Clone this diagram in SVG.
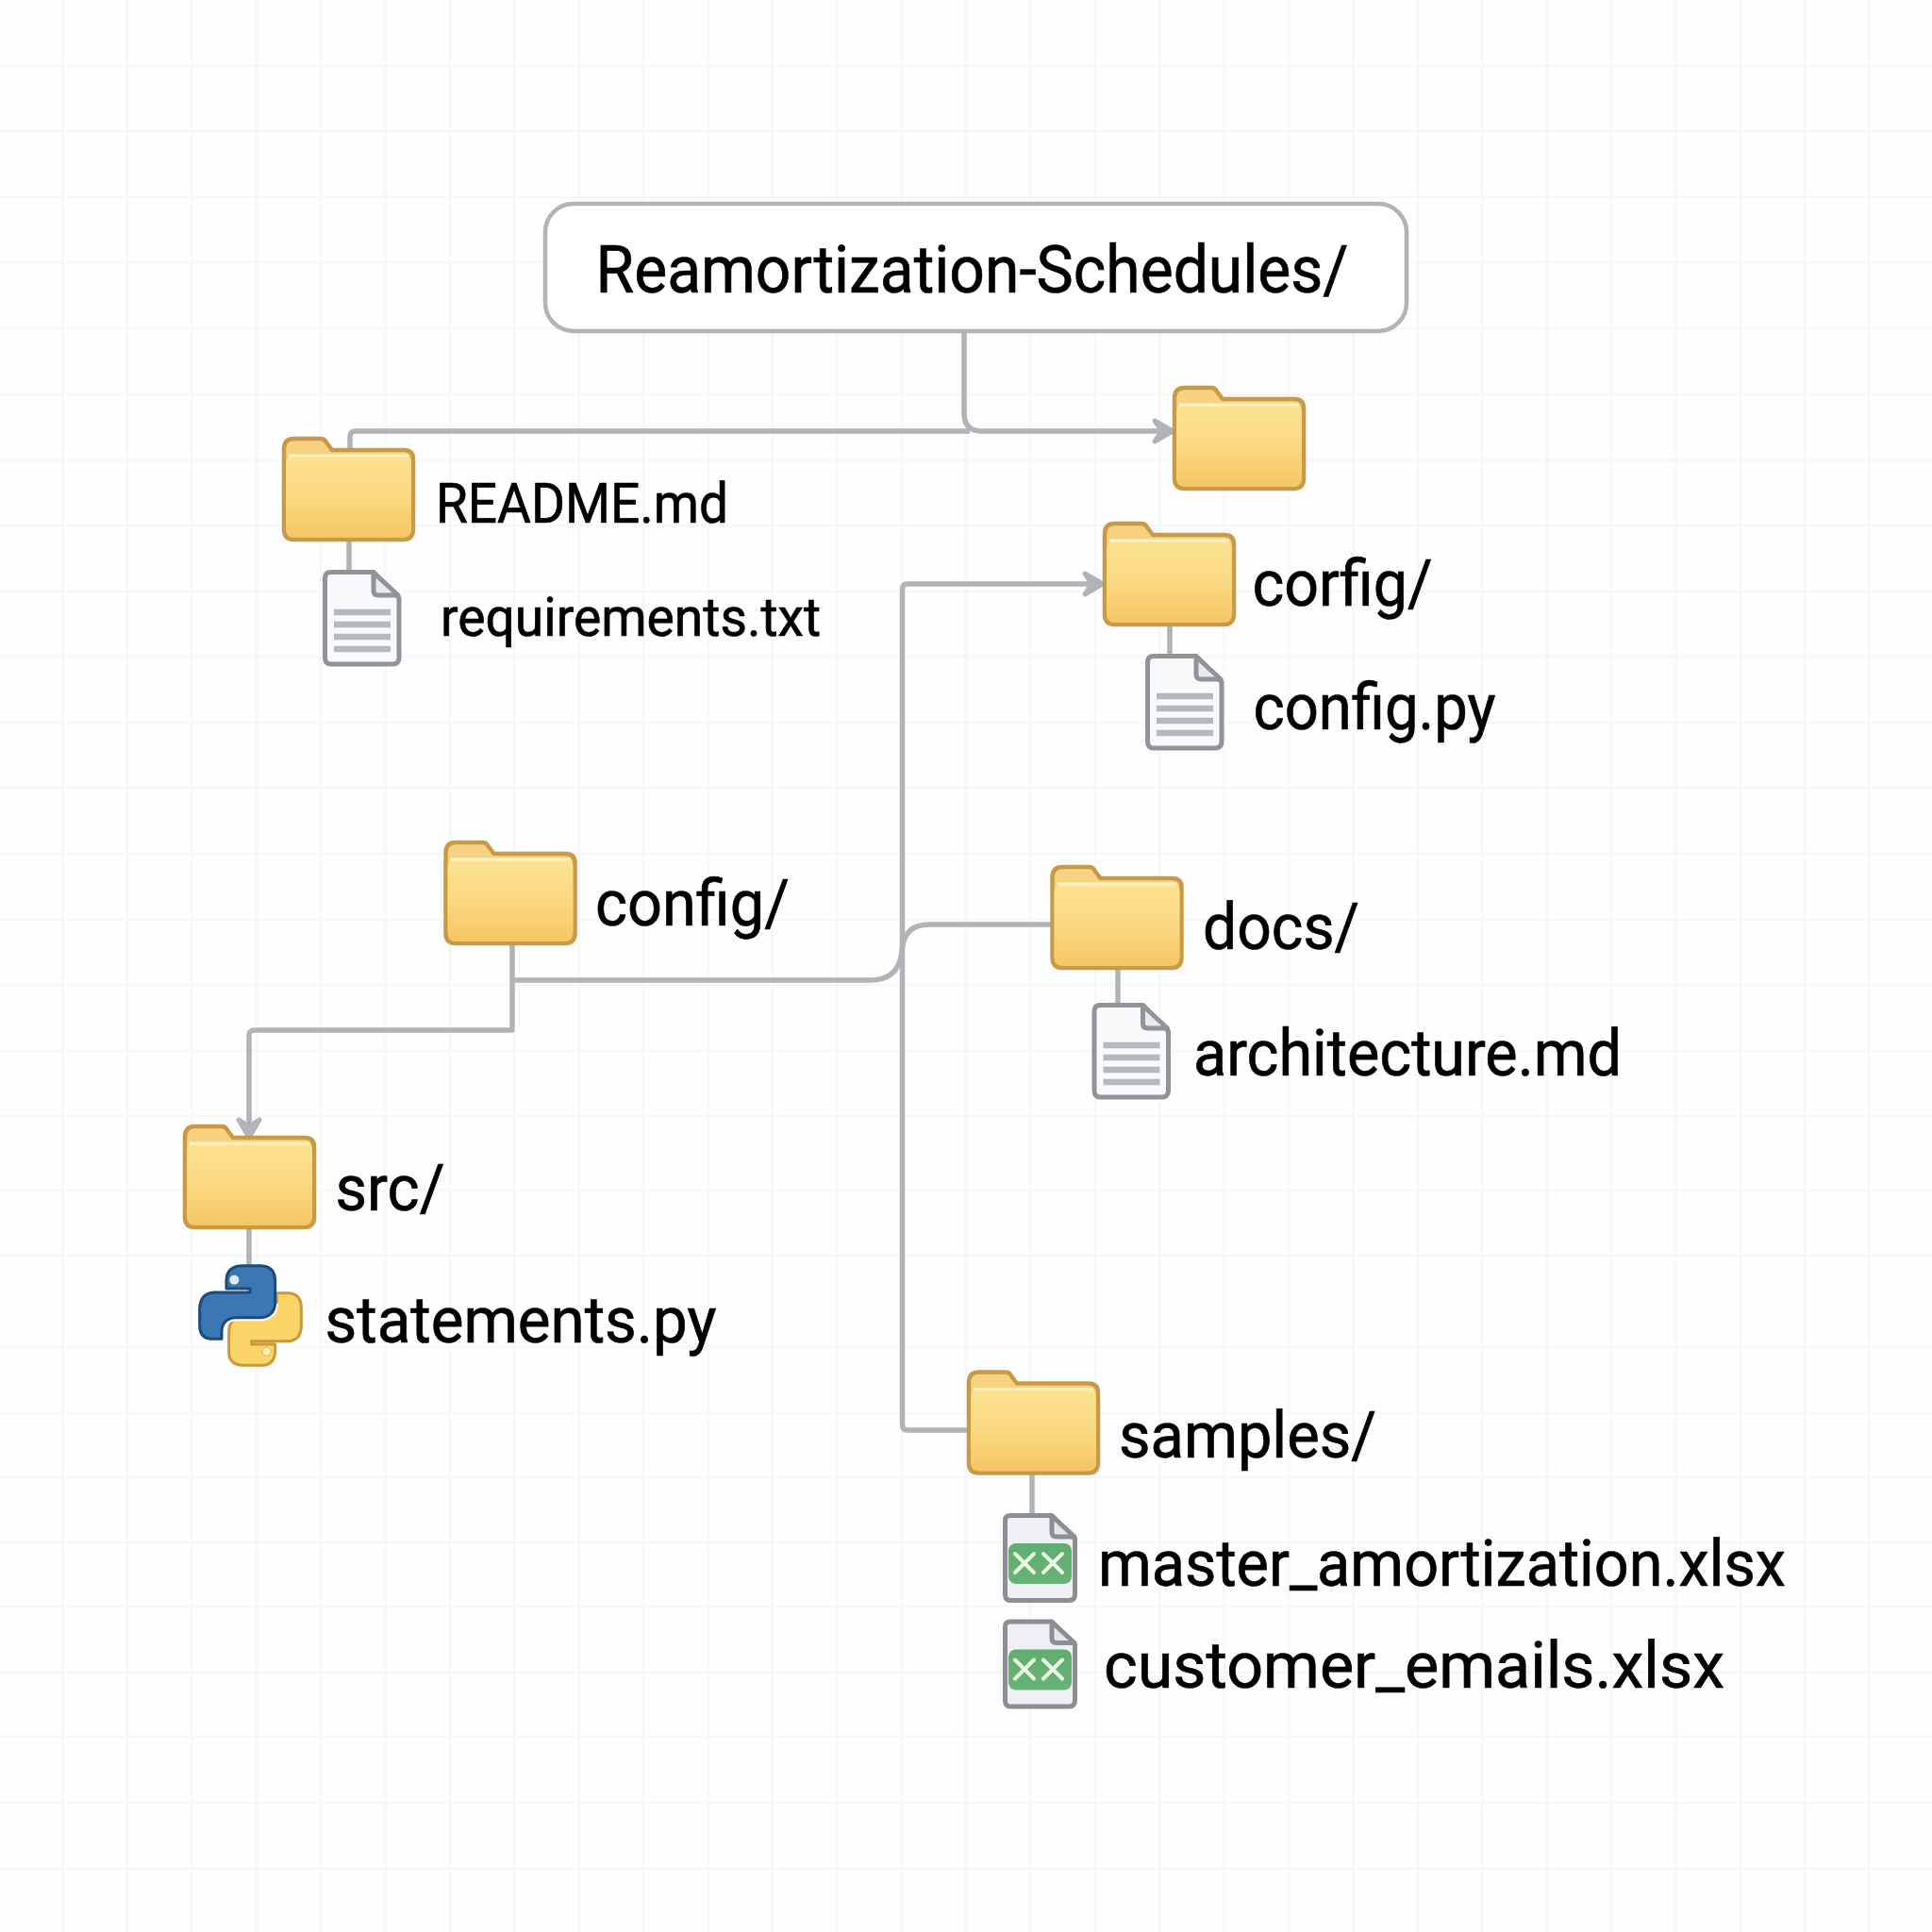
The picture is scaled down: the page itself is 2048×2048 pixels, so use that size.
<svg xmlns="http://www.w3.org/2000/svg" width="2048" height="2048" viewBox="0 0 2048 2048">
<style>
.lab{font-family:Roboto,"Liberation Sans",sans-serif;fill:#000;stroke:#000;stroke-width:.7px;font-size:68px}
.con{fill:none;stroke:#b0b4b9;stroke-width:5.500;stroke-linejoin:round}
.grid{fill:none;stroke:#f7f7f8;stroke-width:2.500}
</style>
<defs>
<linearGradient id="fg" x1="0" y1="0" x2="0" y2="1"><stop offset="0" stop-color="#fde291"/><stop offset=".5" stop-color="#fbd981"/><stop offset="1" stop-color="#f5c663"/></linearGradient>
<linearGradient id="gg" x1="0" y1="0" x2="0" y2="1"><stop offset="0" stop-color="#5eae6d"/><stop offset="1" stop-color="#68b377"/></linearGradient>
<marker id="arr" markerUnits="userSpaceOnUse" markerWidth="32" markerHeight="34" refX="26" refY="15" orient="auto"><path d="M5,4 L24,15 L5,26 L12,15 Z" fill="#b0b4b9" stroke="#b0b4b9" stroke-width="5" stroke-linejoin="round"/></marker>
<g id="folder">
<path d="M2,13 Q2,2 13,2 H41 Q45,2 47,6 L53,14 H129 Q139,14 139,24 V98 Q139,109 128,109 H13 Q2,109 2,98 Z" fill="#f7d283" stroke="#c99a45" stroke-width="4.500" stroke-linejoin="round"/>
<path d="M4,30 Q4,19 15,19 H126 Q137,19 137,30 V97 Q137,107 127,107 H14 Q4,107 4,97 Z" fill="url(#fg)"/>
<path d="M7,20 H134" fill="none" stroke="#fff2c4" stroke-width="3"/>
</g>
<g id="doc">
<path d="M9,2.500 H54 L81,30 V93 Q81,100 74,100 H9 Q2.500,100 2.500,93 V9 Q2.500,2.500 9,2.500 Z" fill="#f8f9fa" stroke="#909397" stroke-width="5" stroke-linejoin="round"/>
<path d="M54,3 V22 Q54,27 59,27 H80 Z" fill="#e8eaec" stroke="#909397" stroke-width="5" stroke-linejoin="round"/>
<path d="M12,45 H72 M12,58 H72 M12,71 H72 M12,84 H72" stroke="#b5b8bc" stroke-width="6.500" fill="none"/>
</g>
<g id="xls">
<path d="M8,2.500 H52 L76.500,27 V86 Q76.500,92.500 70,92.500 H8 Q2.500,92.500 2.500,86 V8 Q2.500,2.500 8,2.500 Z" fill="#eef0f3" stroke="#8b8e93" stroke-width="5" stroke-linejoin="round"/>
<path d="M52,3 V20 Q52,25 57,25 H76 Z" fill="#e3e5e8" stroke="#8b8e93" stroke-width="5" stroke-linejoin="round"/>
<rect x="6" y="32" width="67" height="43" rx="8" fill="url(#gg)"/>
<path d="M13,43 L33,63 M33,43 L13,63 M43,43 L63,63 M63,43 L43,63" stroke="#e9f6e2" stroke-width="4" stroke-linecap="round" fill="none"/>
</g>
</defs>
<rect width="2048" height="2048" fill="#fefefe"/>
<path class="grid" d="M66.500,0V2048M134.900,0V2048M203.300,0V2048M271.700,0V2048M340.100,0V2048M408.500,0V2048M476.900,0V2048M545.300,0V2048M613.700,0V2048M682.100,0V2048M750.500,0V2048M818.900,0V2048M887.300,0V2048M955.700,0V2048M1024.100,0V2048M1092.500,0V2048M1160.900,0V2048M1229.300,0V2048M1297.700,0V2048M1366.100,0V2048M1434.500,0V2048M1503,0V2048M1571.300,0V2048M1639.700,0V2048M1708,0V2048M1776.500,0V2048M1845,0V2048M1913,0V2048M1981,0V2048"/>
<path class="grid" d="M0,70H2048M0,139H2048M0,209H2048M0,278H2048M0,348H2048M0,418H2048M0,488H2048M0,557H2048M0,627H2048M0,696H2048M0,766H2048M0,835H2048M0,905H2048M0,975H2048M0,1044H2048M0,1114H2048M0,1183H2048M0,1262H2048M0,1331H2048M0,1428H2048M0,1498H2048M0,1566H2048M0,1635H2048M0,1703H2048M0,1773H2048M0,1841H2048M0,1911H2048M0,1981H2048"/>
<g id="connectors">
<path class="con" d="M1022,351 V438 Q1022,457 1041,457 H1245" marker-end="url(#arr)"/>
<path class="con" d="M1028,457 H377 Q371,457 371,463 V485"/>
<path class="con" d="M370,570 V606"/>
<path class="con" d="M1240,660 V695"/>
<path class="con" d="M1185,1024 V1065"/>
<path class="con" d="M264,1300 V1345"/>
<path class="con" d="M1094,1560 V1606"/>
<path class="con" d="M543,998 V1092 H270 Q264,1092 264,1098 V1208" marker-end="url(#arr)"/>
<path class="con" d="M544,1039 H923 Q953,1039 956,1008 Q958,980 985,980 H1116"/>
<path class="con" d="M1027,1516 H962 Q956.500,1516 956.500,1510 V625 Q956.500,619 962,619 H1171" marker-end="url(#arr)"/>
</g>
<g id="root"><rect x="578" y="216" width="913" height="135" rx="30" fill="#fff" stroke="#b0b4b9" stroke-width="4.500"/><text class="lab" x="631.500" y="310" style="font-size:70px" textLength="798" lengthAdjust="spacingAndGlyphs">Reamortization-Schedules/</text></g>
<g id="n-readme"><use href="#folder" x="299" y="463"/><text class="lab" x="462" y="553.500" style="font-size:60px" textLength="310" lengthAdjust="spacingAndGlyphs">README.md</text></g>
<g id="n-requirements"><use href="#doc" x="342" y="604"/><text class="lab" x="467" y="673.500" style="font-size:58px" textLength="403" lengthAdjust="spacingAndGlyphs">requirements.txt</text></g>
<g id="n-top"><use href="#folder" x="1243" y="409"/></g>
<g id="n-corfig"><use href="#folder" x="1169" y="553"/><text class="lab" x="1327.500" y="642" textLength="191" lengthAdjust="spacingAndGlyphs">corfig/</text></g>
<g id="n-configpy"><use href="#doc" x="1214" y="693"/><text class="lab" x="1328.500" y="773" textLength="257" lengthAdjust="spacingAndGlyphs">config.py</text></g>
<g id="n-config"><use href="#folder" x="470.500" y="891"/><text class="lab" x="631" y="980.500" textLength="206" lengthAdjust="spacingAndGlyphs">config/</text></g>
<g id="n-docs"><use href="#folder" x="1113.500" y="917"/><text class="lab" x="1275" y="1005.500" textLength="166" lengthAdjust="spacingAndGlyphs">docs/</text></g>
<g id="n-arch"><use href="#doc" x="1157.500" y="1063"/><text class="lab" x="1265" y="1139.500" textLength="454" lengthAdjust="spacingAndGlyphs">architecture.md</text></g>
<g id="n-src"><use href="#folder" x="194" y="1192"/><text class="lab" x="355.500" y="1282.500" textLength="116" lengthAdjust="spacingAndGlyphs">src/</text></g>
<g id="n-statements">
<g transform="translate(170 1170) scale(.3333)">
<path d="M370,602 H410 Q448,605 448,650 V710 Q445,755 405,755 H290 V765 H365 V790 Q362,832 320,832 H262 Q218,830 218,790 V722 Q222,678 262,675 H330 Q368,672 370,640 Z" fill="#fbd568" stroke="#c9993b" stroke-width="9" stroke-linejoin="round"/>
<path d="M365,635 Q362,677 320,680 H240 Q198,682 195,722" fill="none" stroke="#fff" stroke-width="21"/>
<path d="M210,560 Q212,517 258,515 H320 Q363,517 365,560 V635 Q362,677 320,680 H240 Q198,682 195,722 V748 H160 Q125,745 125,705 V650 Q128,603 170,600 H285 V588 H210 Z" fill="#3a77b4" stroke="#1d4a78" stroke-width="9" stroke-linejoin="round"/>
<circle cx="235" cy="560" r="15" fill="#dcecf5"/>
<circle cx="338" cy="788" r="14" fill="#fdeeb5" stroke="#d9b45a" stroke-width="3"/>
</g>
<text class="lab" x="344.500" y="1423" textLength="415" lengthAdjust="spacingAndGlyphs">statements.py</text></g>
<g id="n-samples"><use href="#folder" x="1025" y="1452.500"/><text class="lab" x="1186" y="1544.500" textLength="273" lengthAdjust="spacingAndGlyphs">samples/</text></g>
<g id="n-master"><use href="#xls" x="1063" y="1604"/><text class="lab" x="1164" y="1680.500" textLength="729" lengthAdjust="spacingAndGlyphs">master_amortization.xlsx</text></g>
<g id="n-customer"><use href="#xls" x="1063" y="1716.500"/><text class="lab" x="1170" y="1788.500" textLength="658" lengthAdjust="spacingAndGlyphs">customer_emails.xlsx</text></g>
</svg>
